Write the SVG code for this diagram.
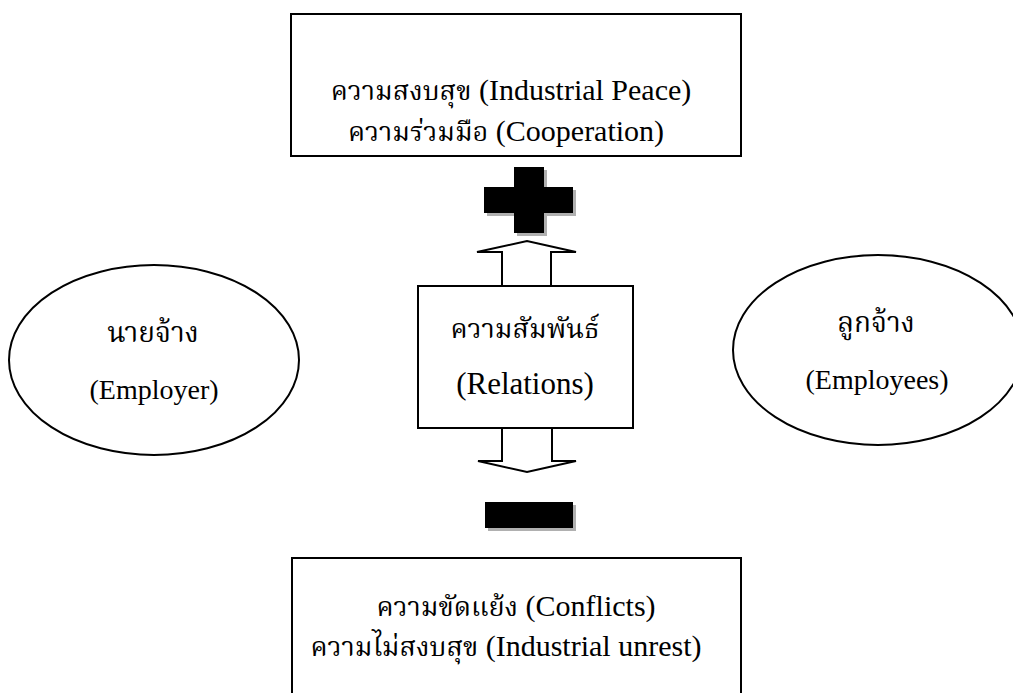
<svg xmlns="http://www.w3.org/2000/svg" width="1013" height="693" viewBox="0 0 1013 693">
<style>
.box{fill:#fff;stroke:#000;stroke-width:2}
.ell{fill:#fff;stroke:#000;stroke-width:2}
.arrow{fill:#fff;stroke:#000;stroke-width:2;stroke-linejoin:miter}
.t{font-family:"Liberation Serif","Noto Serif Thai","Noto Sans Thai","DejaVu Serif",serif;font-size:28px;fill:#000;text-anchor:middle}
.th{font-family:"Noto Serif Thai","Noto Sans Thai","Liberation Serif",serif;font-size:27px}
.en{font-family:"Liberation Serif","Times New Roman",serif;font-size:30px}
.en28{font-family:"Liberation Serif","Times New Roman",serif;font-size:28px}
.shadow{fill:#b0b0b0}
.sign{fill:#000}
</style>
<rect width="1013" height="693" fill="#fff"/>
<g id="peace-box">
<rect class="box" x="291" y="14" width="450" height="142"/>
<text class="t" x="511" y="100"><tspan class="th">ความสงบสุข</tspan><tspan class="en"> (Industrial Peace)</tspan></text>
<text class="t" x="506" y="141"><tspan class="th">ความร่วมมือ</tspan><tspan class="en"> (Cooperation)</tspan></text>
</g>
<g id="conflict-box">
<path class="box" d="M292,694 V558 H741 V694"/>
<text class="t" x="516" y="616"><tspan class="th">ความขัดแย้ง</tspan><tspan class="en"> (Conflicts)</tspan></text>
<text class="t" x="506" y="656"><tspan class="th">ความไม่สงบสุข</tspan><tspan class="en"> (Industrial unrest)</tspan></text>
</g>
<g id="employer">
<ellipse class="ell" cx="154" cy="360" rx="145" ry="95"/>
<text class="t th" x="153" y="342" style="font-size:28px">นายจ้าง</text>
<text class="t en28" x="154" y="399">(Employer)</text>
</g>
<g id="employees">
<ellipse class="ell" cx="878" cy="350" rx="145" ry="95"/>
<text class="t th" x="876" y="332" style="font-size:28px">ลูกจ้าง</text>
<text class="t en28" x="877" y="389">(Employees)</text>
</g>
<g id="relations">
<rect class="box" x="418" y="286" width="215" height="142"/>
<text class="t th" x="525" y="338">ความสัมพันธ์</text>
<text class="t en" x="525" y="394" style="font-size:31px">(Relations)</text>
</g>
<g id="plus">
<path class="shadow" d="M517,170 H547 V190 H576 V216 H547 V236 H517 V216 H487 V190 H517 Z"/>
<path class="sign" d="M514,167 H544 V187 H573 V213 H544 V233 H514 V213 H484 V187 H514 Z"/>
</g>
<g id="minus">
<rect class="shadow" x="488" y="505" width="88" height="26"/>
<rect class="sign" x="485" y="502" width="88" height="26"/>
</g>
<g id="connectors">
<polygon class="arrow" points="502,286 502,252 477,252 527,241 576,252 551,252 551,286"/>
<polygon class="arrow" points="502,428 502,461 478,461 527,472 576,461 552,461 552,428"/>
</g>
</svg>
